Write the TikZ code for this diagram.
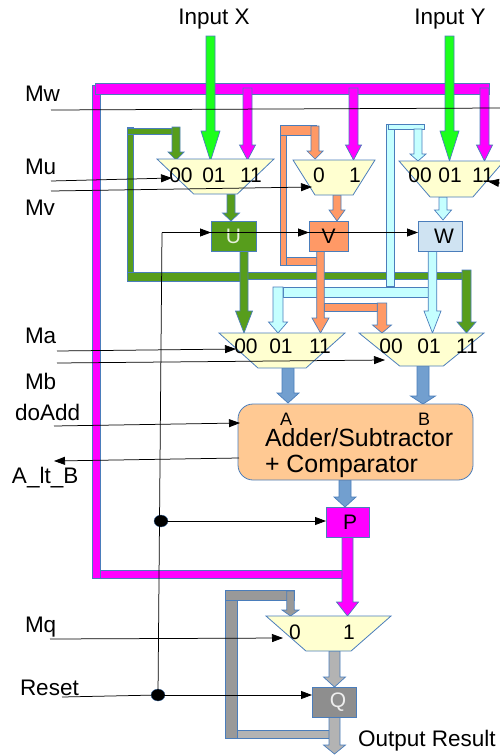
\documentclass[tikz,border=0pt]{standalone}
\usepackage{fontspec}
\setmainfont{Liberation Sans}
\usetikzlibrary{shapes.geometric,arrows.meta,calc}
\definecolor{edge}{HTML}{4A7DBB}
\definecolor{mag}{HTML}{FF00FF}
\definecolor{lime}{HTML}{1CFF1C}
\definecolor{dgreen}{HTML}{579D1C}
\definecolor{orng}{HTML}{FF9966}
\definecolor{lblue}{HTML}{C5FFFF}
\definecolor{muxfill}{HTML}{FFFFD0}
\definecolor{sblue}{HTML}{729FCF}
\definecolor{peach}{HTML}{FFC993}
\definecolor{wfill}{HTML}{CFE3F2}
\definecolor{gray1}{HTML}{999999}
\definecolor{gray2}{HTML}{B3B3B3}
\definecolor{qfill}{HTML}{8E8E8E}
\tikzset{
  x=1pt,y=-1pt,
  muxshape/.style={trapezium,shape border rotate=180,trapezium stretches=true,draw=edge,fill=muxfill,line width=.8pt,inner sep=1pt,outer sep=0pt},
  regbox/.style={rectangle,draw=edge,line width=.8pt,inner sep=0pt,outer sep=0pt,font=\fontsize{21}{23}\selectfont},
  big/.style={font=\fontsize{22.5}{25}\selectfont,inner sep=0pt,outer sep=0pt},
  muxlabel/.style={font=\fontsize{21}{23}\selectfont,inner sep=0pt,outer sep=0pt},
  small/.style={font=\fontsize{18}{20}\selectfont,inner sep=0pt,outer sep=0pt},
  ctl/.style={draw=black,line width=.75pt,-{Triangle[length=11pt,width=8pt]}},
  wire/.style={draw=black,line width=.75pt},
  bar/.style={draw=edge,line width=.5pt},
  dotnode/.style={ellipse,fill=black,draw=edge,line width=.3pt,minimum width=14pt,minimum height=12pt,inner sep=0pt},
}
% colour, start, tip, shaft half-width, head half-width, head length
\newcommand{\fat}[6]{%
  \path let \p1=(#2),\p2=(#3) in
    coordinate (fs) at (\x1,\y1) coordinate (ft) at (\x1,\y2);
  \draw[edge,line width=.7pt,fill=#1,line join=miter]
    ($(fs)+(-#4,0)$) -- ($(ft)+(-#4,-#6)$) -- ($(ft)+(-#5,-#6)$) -- (ft)
    -- ($(ft)+(#5,-#6)$) -- ($(ft)+(#4,-#6)$) -- ($(fs)+(#4,0)$) -- cycle;}
\newcommand{\hv}[5]{\fill[#1] (#2,#3) rectangle (#4,#5); \draw[bar] (#2,#3) rectangle (#4,#5);}
\begin{document}
\begin{tikzpicture}
\useasboundingbox (0,0) rectangle (500,755);
% ports
\coordinate (xtop) at (210.5,36); \coordinate (ytop) at (449.5,36);
\coordinate (ub00) at (176,127); \coordinate (uin00) at (176,160);
\coordinate (uin01) at (210.5,161); \coordinate (mtap1) at (247.5,88); \coordinate (uin11) at (247.5,160);
\coordinate (vb0) at (315,126); \coordinate (vin0) at (315,159);
\coordinate (mtap2) at (353.5,88); \coordinate (vin1) at (353.5,160);
\coordinate (wb00) at (418,129); \coordinate (win00) at (418,161);
\coordinate (win01) at (449.5,161); \coordinate (mtap3) at (484.5,88); \coordinate (win11) at (484.5,161);
\coordinate (uo) at (231,194); \coordinate (ui) at (231,221);
\coordinate (vo) at (337,195); \coordinate (vi) at (337,221);
\coordinate (wo) at (443,197); \coordinate (wi) at (443,220);
\coordinate (ua) at (244,251); \coordinate (a00) at (244,333);
\coordinate (la) at (278,287); \coordinate (a01) at (278,333);
\coordinate (va) at (320.5,251); \coordinate (a11) at (320.5,333);
\coordinate (ob) at (382,303); \coordinate (b00) at (382,333);
\coordinate (wb) at (432.5,251); \coordinate (b01) at (432.5,333);
\coordinate (gb) at (466.5,270); \coordinate (b11) at (466.5,333);
\coordinate (ao) at (288,368); \coordinate (ai) at (288,403);
\coordinate (bo) at (423,366); \coordinate (bi) at (423,404);
\coordinate (so) at (345,480); \coordinate (pi) at (345,507);
\coordinate (po) at (347.5,536); \coordinate (q1) at (347.5,616);
\coordinate (qb) at (290.5,591); \coordinate (q0) at (290.5,616);
\coordinate (mo) at (334.5,651); \coordinate (qi) at (334.5,687);
\coordinate (qo) at (334.5,717); \coordinate (out) at (334.5,754);
% feedback bars
\hv{mag}{92}{85}{100}{578}
\hv{mag}{95}{83}{489}{94}
\hv{mag}{100}{570}{342}{578}
\hv{dgreen}{127}{127}{133}{281}
\hv{dgreen}{127}{128}{176}{134}
\hv{dgreen}{244}{272}{462}{279}
\hv{dgreen}{127}{272}{245}{281}
\hv{orng}{280}{125}{286}{265}
\hv{orng}{280}{125}{316}{135}
\hv{orng}{286}{257}{317}{265}
\hv{orng}{324}{303}{377}{311}
\hv{lblue}{386}{124}{394}{286}
\hv{lblue}{388}{124}{424}{129}
\hv{lblue}{283}{287}{429}{297}
\hv{gray2}{236}{730}{334}{738}
\hv{gray1}{225}{590}{237}{738}
\hv{gray1}{225}{590}{294}{600}
% block arrows
\fat{lime}{xtop}{uin01}{4.5}{9.5}{30}
\fat{lime}{ytop}{win01}{4.5}{9.5}{30}
\fat{mag}{mtap1}{uin11}{4.5}{8}{15}
\fat{mag}{mtap2}{vin1}{4.5}{8}{15}
\fat{mag}{mtap3}{win11}{4.5}{8}{16}
\fat{dgreen}{ub00}{uin00}{4}{8}{8}
\fat{orng}{vb0}{vin0}{4}{8}{8}
\fat{lblue}{wb00}{win00}{4}{8}{7}
\fat{dgreen}{uo}{ui}{4}{8.5}{8}
\fat{orng}{vo}{vi}{4}{8}{11}
\fat{lblue}{wo}{wi}{4}{8.5}{10}
\fat{dgreen}{ua}{a00}{4}{8.5}{22}
\fat{lblue}{la}{a01}{5}{9.5}{11}
\fat{orng}{va}{a11}{3.8}{8.5}{15}
\fat{orng}{ob}{b00}{4.7}{9.5}{8}
\fat{lblue}{wb}{b01}{4.3}{8.5}{22}
\fat{dgreen}{gb}{b11}{4.5}{9.5}{11}
\fat{sblue}{ao}{ai}{6}{11}{10}
\fat{sblue}{bo}{bi}{6}{12.5}{8}
\fat{sblue}{so}{pi}{6}{11}{10}
\fat{mag}{po}{q1}{5.5}{11}{14}
\fat{gray1}{qb}{q0}{3.7}{8.5}{6}
\fat{gray2}{mo}{qi}{5.5}{11}{10}
\fat{gray2}{qo}{out}{5.5}{11}{9}
% multiplexers
\node[muxshape,trapezium left angle=50,trapezium right angle=50,minimum width=117pt,minimum height=35pt] (muxU) at (215.5,176.5) {};
\node[muxshape,trapezium left angle=60,trapezium right angle=60,minimum width=82pt,minimum height=35pt] (muxV) at (334,177.5) {};
\node[muxshape,trapezium left angle=54,trapezium right angle=54,minimum width=105pt,minimum height=36pt] (muxW) at (451.5,179) {};
\node[muxshape,trapezium left angle=51,trapezium right angle=51,minimum width=126pt,minimum height=35pt] (muxA) at (282,350.5) {};
\node[muxshape,trapezium left angle=47,trapezium right angle=47,minimum width=125pt,minimum height=33pt] (muxB) at (421.5,349.5) {};
\node[muxshape,trapezium left angle=48.5,trapezium right angle=48.5,minimum width=125pt,minimum height=35pt] (muxQ) at (328.5,633.5) {};
% mux labels
\node[muxlabel] (lu0) at (181,175) {00};
\node[muxlabel] (lu1) at (214,175) {01};
\node[muxlabel] (lu2) at (251,175) {11};
\node[muxlabel] (lv0) at (319,175) {0};
\node[muxlabel] (lv1) at (355,175) {1};
\node[muxlabel] (lw0) at (420,175) {00};
\node[muxlabel] (lw1) at (450,175) {01};
\node[muxlabel] (lw2) at (483,175) {11};
\node[muxlabel] (la0) at (246,346) {00};
\node[muxlabel] (la1) at (281,346) {01};
\node[muxlabel] (la2) at (320,346) {11};
\node[muxlabel] (lb0) at (391,346) {00};
\node[muxlabel] (lb1) at (429,346) {01};
\node[muxlabel] (lb2) at (467,346) {11};
\node[muxlabel] (lq0) at (295,632) {0};
\node[muxlabel] (lq1) at (349,632) {1};
% registers
\node[regbox,fill=dgreen,text=white!85!dgreen,minimum width=45pt,minimum height=30pt] (regU) at (233.5,236) {U};
\node[regbox,fill=orng,minimum width=39pt,minimum height=30pt] (regV) at (328.5,236) {V};
\node[regbox,fill=wfill,minimum width=44pt,minimum height=30pt] (regW) at (440,236) {\hspace*{8pt}W};
\node[regbox,fill=mag,minimum width=43pt,minimum height=30pt] (regP) at (347.5,522) {\hspace*{5pt}P};
\node[regbox,fill=qfill,text=white!85!qfill,minimum width=44pt,minimum height=30pt] (regQ) at (334,702) {\hspace*{8pt}Q};
% adder
\node[draw=edge,line width=.8pt,fill=peach,rounded corners=15pt,minimum width=235pt,minimum height=76pt,inner sep=0pt,outer sep=0pt] (alu) at (355.5,442) {};
\node[small] (aluA) at (286,419) {A};
\node[small] (aluB) at (424,419) {B};
\node[big,font=\fontsize{24.9}{27}\selectfont,anchor=west] (alu1) at (265,438) {Adder/Subtractor};
\node[big,font=\fontsize{24.9}{27}\selectfont,anchor=west] (alu2) at (265,466) {+ Comparator};
% texts
\node[big] (inX) at (214,19) {Input X};
\node[big] (inY) at (450,19) {Input Y};
\node[big,anchor=west] (tMw) at (25,94) {Mw};
\node[big,anchor=west] (tMu) at (25,167) {Mu};
\node[big,anchor=west] (tMv) at (25,208) {Mv};
\node[big,anchor=west] (tMa) at (25,336) {Ma};
\node[big,anchor=west] (tMb) at (25,381) {Mb};
\node[big,anchor=west] (tdo) at (15,412) {doAdd};
\node[big,anchor=west] (tlt) at (12,478) {A\_lt\_B};
\node[big,anchor=west] (tMq) at (25,627) {Mq};
\node[big,anchor=west] (tRe) at (20,688) {Reset};
\node[big,anchor=west] (tOut) at (358,741) {Output Result};
% control lines
\coordinate (cMw) at (51,110); \coordinate (cMwE) at (500,108);
\draw[wire] (cMw) -- (cMwE);
\coordinate (cMu) at (51,181); \coordinate (cMuE) at (172,178);
\draw[ctl] (cMu) -- (cMuE);
\coordinate (cMv) at (51,191); \coordinate (cMvE) at (312,187);
\draw[ctl] (cMv) -- (cMvE);
\coordinate (cMwI) at (500,183); \coordinate (cMwT) at (488,181.5);
\draw[ctl] (cMwI) -- (cMwT);
\coordinate (cMa) at (57,351); \coordinate (cMaE) at (236,349);
\draw[ctl] (cMa) -- (cMaE);
\coordinate (cMb) at (57,363); \coordinate (cMbE) at (385,360);
\draw[ctl] (cMb) -- (cMbE);
\coordinate (cdo) at (54,426); \coordinate (cdoE) at (240,423);
\draw[ctl] (cdo) -- (cdoE);
\coordinate (clt) at (239,458); \coordinate (cltE) at (54,461);
\draw[ctl] (clt) -- (cltE);
\coordinate (cMq) at (50,639); \coordinate (cMqE) at (283,638);
\draw[ctl] (cMq) -- (cMqE);
\node[dotnode] (d1) at (161,521) {};
\node[dotnode] (d2) at (158,695) {};
\coordinate (cRe) at (62,697);
\coordinate (clk) at (162,232.5);
\draw[wire] (cRe) -- (d2);
\draw[wire] (d2.center) -- (clk);
\draw[ctl] (d2.center) -- (d2.center -| regQ.west);
\draw[ctl] (d1.center) -- (d1.center -| regP.west);
\draw[ctl] (clk) -- (clk -| regU.west);
\draw[ctl] (clk) -- (clk -| regV.west);
\draw[ctl] (clk) -- (clk -| regW.west);
\end{tikzpicture}
\end{document}
